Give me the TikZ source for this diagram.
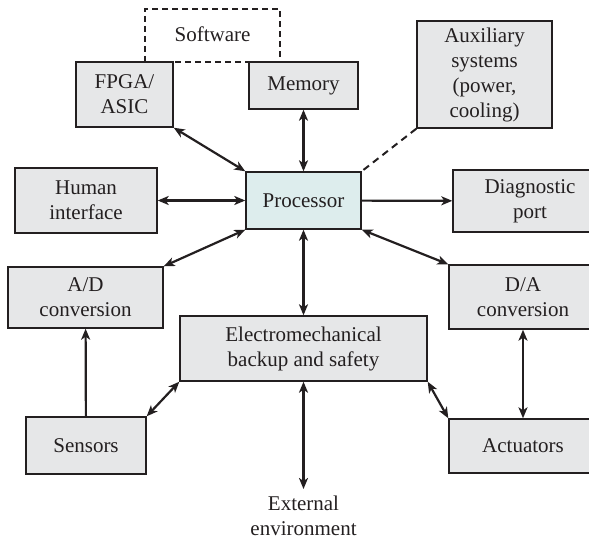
\documentclass[tikz,border=0pt]{standalone}
\usepackage{fontspec}
\setmainfont{Liberation Serif}
\usepackage{xcolor}
\usepackage{tikz}
\usetikzlibrary{arrows.meta, positioning}

\definecolor{boxgray}{RGB}{230,231,232}
\definecolor{proccyan}{RGB}{221,237,237}
\definecolor{inkline}{RGB}{35,31,32}

\begin{document}
\begin{tikzpicture}[
    x=1pt, y=-1pt,
    box/.style={draw=inkline, rectangle, line width=1.4pt, inner sep=0pt,
      align=center, fill=boxgray, text=inkline,
      font=\fontsize{21}{25}\selectfont},
    procbox/.style={box, fill=proccyan},
    softbox/.style={box, fill=white, dashed, dash pattern=on 6pt off 4pt},
    arrow/.style={line width=2.2pt, draw=inkline, <->,
      >={Stealth[length=11pt, width=9pt, inset=3pt]}},
    onearrow/.style={arrow, <-}
]
\useasboundingbox (0,0) rectangle (589,540);
\clip (0,0) rectangle (589,540);

\node[softbox, minimum width=135pt, minimum height=53pt] (software) at (212.5,35.5) {\raisebox{3pt}{Software}};
\node[box, minimum width=97pt, minimum height=65pt] (fpga) at (124.5,94.5) {FPGA/\\ASIC};
\node[box, minimum width=109pt, minimum height=47pt] (memory) at (303.5,85.5) {Memory};
\node[box, minimum width=135pt, minimum height=107pt] (aux) at (484.5,74.5) {Auxiliary\\systems\\(power,\\cooling)};
\node[procbox, minimum width=115pt, minimum height=57pt] (processor) at (303.5,200.5) {Processor};
\node[box, minimum width=142pt, minimum height=65pt] (human) at (86,200.5) {Human\\interface};
\node[box, minimum width=154pt, minimum height=62pt] (diag) at (530,201) {Diagnostic\\port};
\node[box, minimum width=155pt, minimum height=61pt] (adconv) at (85.5,297.5) {A/D\\conversion};
\node[box, minimum width=148pt, minimum height=64pt] (daconv) at (523,297) {D/A\\conversion};
\node[box, minimum width=247pt, minimum height=65pt] (emech) at (303.5,348.5) {Electromechanical\\backup and safety};
\node[box, minimum width=120pt, minimum height=57pt] (sensors) at (86,445.5) {Sensors};
\node[box, minimum width=148pt, minimum height=54pt] (actuators) at (523,446) {Actuators};
\node[box, draw=none, fill=none, anchor=north] (extenv) at (303.5,495) {External\\environment};

\draw[arrow] (fpga.south east) -- (processor.north west);
\draw[arrow] (memory) -- (processor);
\draw[line width=2pt, draw=inkline, dashed, dash pattern=on 7pt off 5pt] (aux.south west) -- (processor.north east);
\draw[arrow] (human) -- (processor);
\draw[onearrow] (diag) -- (processor);
\draw[arrow] (adconv.north east) -- (processor.south west);
\draw[arrow] (processor.south east) -- (daconv.north west);
\draw[arrow] (processor) -- (emech);
\draw[onearrow] (adconv) -- (sensors);
\draw[arrow] (sensors.north east) -- (emech.south west);
\draw[arrow] (emech.south east) -- (actuators.north west);
\draw[arrow] (daconv) -- (actuators);
\draw[arrow, shorten >=6pt] (emech) -- (extenv);
\end{tikzpicture}
\end{document}
